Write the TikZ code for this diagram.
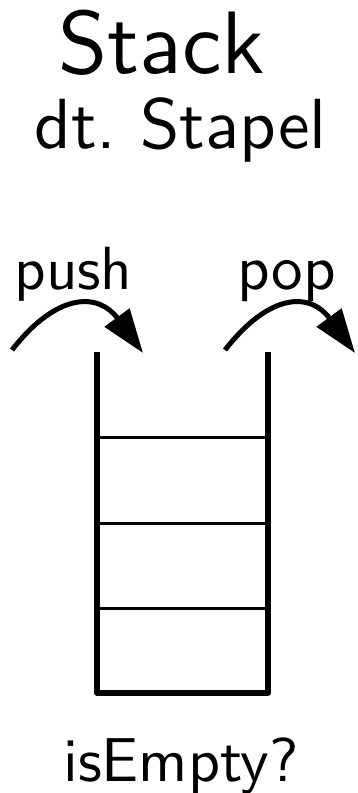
\documentclass[tikz,border=0pt]{standalone}
\usepackage{tikz}
\usetikzlibrary{arrows.meta}

\begin{document}
\begin{tikzpicture}[x=1pt,y=-1pt]
\tikzstyle{every node}+=[inner sep=0pt,anchor=base,font=\sffamily\fontsize{10}{12}\selectfont]
\tikzstyle{wall}=[line width=5.5pt,line join=round]
\tikzstyle{slot}=[line width=3pt]
\tikzstyle{op}=[line width=5pt,-{Triangle[length=44pt,width=30pt]}]
\useasboundingbox (0,0) rectangle (358,793);
\node (stack) at (161.5,73) {\scalebox{8.87}{Stack}};
\node (stapel) at (180.5,148) {\scalebox{7.1}{dt.\ Stapel}};
\node (push) at (73.5,289) {\scalebox{6.1}{push}};
\node (pop) at (286.5,289) {\scalebox{6.3}{pop}};
\node (empty) at (181,781) {\scalebox{6.2}{isEmpty?}};
\coordinate (push from) at (12,350);
\coordinate (push to) at (143,353);
\coordinate (pop from) at (225,350);
\coordinate (pop to) at (355,353);
\draw [op] (push from) .. controls +(46,-59) and +(-44,-60) .. (push to);
\draw [op] (pop from) .. controls +(46,-59) and +(-44,-60) .. (pop to);
\draw [wall] (97,352) -- (97,693) -- (268,693) -- (268,352);
\foreach \y in {437,523,608}
  \draw [slot] (97,\y) -- (268,\y);
\end{tikzpicture}
\end{document}
